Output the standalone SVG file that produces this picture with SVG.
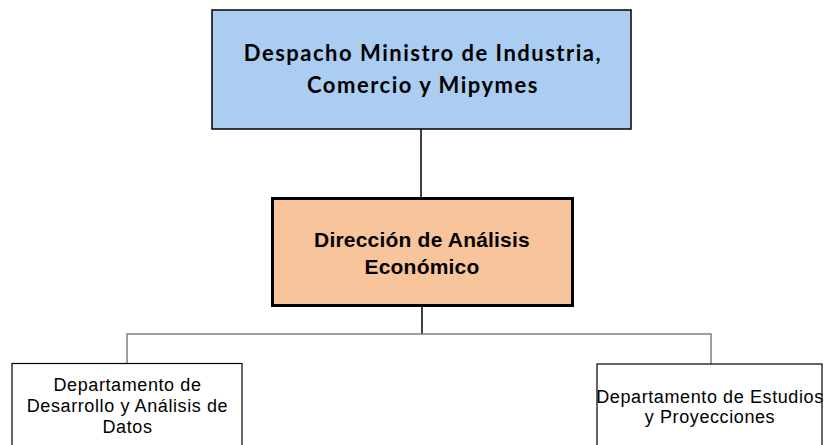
<svg xmlns="http://www.w3.org/2000/svg" width="828" height="445" viewBox="0 0 828 445">
<style>
.t1{font-family:Lato,"Open Sans",sans-serif;font-weight:bold;font-size:22px;letter-spacing:1.5px;fill:#000;text-anchor:middle}
.t2{font-family:"Liberation Sans",Arial,sans-serif;font-weight:bold;font-size:21px;letter-spacing:0.2px;fill:#000;text-anchor:middle}
.t3{font-family:"Liberation Sans",Arial,sans-serif;font-size:18px;letter-spacing:0.6px;fill:#000;text-anchor:middle}
.conn{stroke:#000;stroke-width:1.5;fill:none}
.grey{stroke:#7f7f7f;stroke-width:1.5;fill:none}
</style>
<rect width="828" height="445" fill="#fff"/>
<g id="connectors">
<line class="conn" x1="421" y1="129" x2="421" y2="198"/>
<line class="conn" x1="422" y1="306" x2="422" y2="334"/>
<polyline class="grey" points="127,363 127,334 711,334 711,364"/>
</g>
<g id="despacho">
<rect x="212" y="10" width="419" height="119" fill="#AACDF1" stroke="#000" stroke-width="1.5"/>
<text class="t1" x="423" y="61">Despacho Ministro de Industria,</text>
<text class="t1" x="423" y="93">Comercio y Mipymes</text>
</g>
<g id="direccion">
<rect x="272.5" y="198.5" width="300" height="107" fill="#F8C49C" stroke="#000" stroke-width="3"/>
<text class="t2" x="422" y="246.5">Dirección de Análisis</text>
<text class="t2" x="422" y="274">Económico</text>
</g>
<g id="dep-desarrollo">
<rect x="12" y="363.5" width="230" height="90" fill="#fff" stroke="#000" stroke-width="1.2"/>
<text class="t3" x="127.5" y="390.5">Departamento de</text>
<text class="t3" x="127.5" y="411.5">Desarrollo y Análisis de</text>
<text class="t3" x="127.5" y="432.5">Datos</text>
</g>
<g id="dep-estudios">
<rect x="597" y="364" width="225" height="90" fill="#fff" stroke="#000" stroke-width="1.2"/>
<text class="t3" x="710" y="403">Departamento de Estudios</text>
<text class="t3" x="710" y="423">y Proyecciones</text>
</g>
</svg>
